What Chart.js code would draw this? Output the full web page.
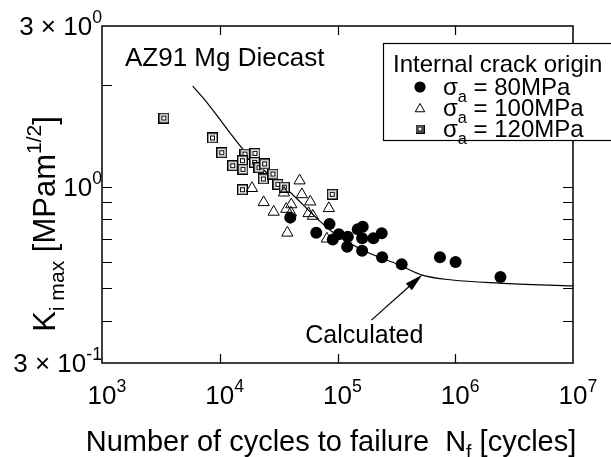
<!DOCTYPE html>
<html>
<head>
<meta charset="utf-8">
<script src="https://cdn.jsdelivr.net/npm/chart.js@4.4.0/dist/chart.umd.min.js"></script>
<style>
  html, body { margin: 0; padding: 0; background: #fff; }
  #wrap { width: 611px; height: 457px; }
</style>
</head>
<body>
<div id="wrap"><canvas id="chart" width="611" height="457"></canvas></div>
<script>
// values: N_f [cycles] and K_i max [MPa m^1/2]
const cyc80 = [39700, 66000, 85500, 91200, 102600, 122300, 120800, 148600, 163800, 161900, 161900, 201800, 237300, 239300, 350700, 741600, 1006000, 2420000];
const k80   = [0.81, 0.730, 0.776, 0.698, 0.723, 0.711, 0.664, 0.748, 0.761, 0.703, 0.646, 0.703, 0.728, 0.618, 0.589, 0.618, 0.598, 0.540];

const cyc100 = [18780, 47640, 49800, 23600, 40500, 58700, 28700, 36740, 40200, 56800, 61800, 84400, 37500, 81200, 35080];
const k100   = [0.990, 1.043, 0.949, 0.899, 0.886, 0.903, 0.842, 0.859, 0.838, 0.834, 0.819, 0.863, 0.730, 0.701, 0.960];

const cyc120 = [3352, 8670, 10400, 12890, 16380, 19910, 15570, 15750, 19800, 21530, 24060, 23460, 28300, 31200, 35340, 15570, 90200];
const k120   = [1.60, 1.396, 1.262, 1.155, 1.251, 1.257, 1.195, 1.127, 1.182, 1.139, 1.169, 1.055, 1.091, 1.017, 0.998, 0.980, 0.950];

// calculated curve
const calcN = [5900, 7460, 17950, 36980, 90800, 163000, 335000, 525000, 944000, 2360000, 10000000];
const calcK = [1.99, 1.81, 1.226, 0.985, 0.734, 0.649, 0.586, 0.547, 0.529, 0.518, 0.508];

// axis ticks and labels
const xLabelVals = [1e3, 1e4, 1e5, 1e6, 1e7];
const xLabelExp  = ['3', '4', '5', '6', '7'];
const xTickVals  = [1e4, 1e5, 1e6];
const yLabelVals = [3, 1, 0.3];
const yLabelBase = ['3 \u00d7 10', '10', '3 \u00d7 10'];
const yLabelExp  = ['0', '0', '-1'];
const yTickVals  = [2, 1, 0.9, 0.8, 0.7, 0.6, 0.5, 0.4];

const legendTitle = 'Internal crack origin';
const legendStress = ['80MPa', '100MPa', '120MPa'];

const FONT = '"Liberation Sans", Arial, Helvetica, sans-serif';

function zip(xs, ys) { return xs.map((x, i) => ({ x: x, y: ys[i] })); }

// square-in-square marker
function squareMarker(size) {
  const c = document.createElement('canvas');
  c.width = size; c.height = size;
  const g = c.getContext('2d');
  g.fillStyle = '#fff';
  g.fillRect(0, 0, size, size);
  g.strokeStyle = '#000';
  g.lineWidth = 1;
  g.strokeRect(0.5, 0.5, size - 1, size - 1);
  g.strokeStyle = '#8a8a8a';
  g.strokeRect(1.5, 1.5, size - 3, size - 3);
  g.strokeStyle = '#000';
  const m = Math.floor(size / 2) - 2;
  g.strokeRect(m + 0.5, m + 0.5, size - 2 * m - 1, size - 2 * m - 1);
  return c;
}
const sqBig = squareMarker(11);
const sqSmall = squareMarker(9);

// text with sub/superscripts, y is the baseline
function richText(ctx, parts, x, y, size, align) {
  const sz = p => p[1] === 'n' ? size : size * 0.68;
  let w = 0;
  parts.forEach(p => { ctx.font = sz(p) + 'px ' + FONT; w += ctx.measureText(p[0]).width; });
  let cx = align === 'center' ? x - w / 2 : align === 'right' ? x - w : x;
  ctx.textAlign = 'left';
  ctx.textBaseline = 'alphabetic';
  parts.forEach(p => {
    ctx.font = sz(p) + 'px ' + FONT;
    const dy = p[1] === 'sup' ? -size * 0.45 : p[1] === 'sub' ? size * 0.28 : 0;
    ctx.fillText(p[0], cx, y + dy);
    cx += ctx.measureText(p[0]).width;
  });
}

const decor = {
  id: 'decor',
  afterDraw(chart) {
    const ctx = chart.ctx;
    const xs = chart.scales.x, ys = chart.scales.y;
    const a = chart.chartArea;
    ctx.save();
    ctx.fillStyle = '#000';
    ctx.strokeStyle = '#000';

    // frame
    ctx.lineWidth = 1.5;
    ctx.strokeRect(a.left, a.top, a.right - a.left, a.bottom - a.top);

    // inward ticks
    ctx.lineWidth = 1.2;
    ctx.beginPath();
    xTickVals.forEach(v => {
      const px = Math.round(xs.getPixelForValue(v)) + 0.5;
      ctx.moveTo(px, a.bottom); ctx.lineTo(px, a.bottom - 9);
      ctx.moveTo(px, a.top); ctx.lineTo(px, a.top + 9);
    });
    yTickVals.forEach(v => {
      const py = Math.round(ys.getPixelForValue(v)) + 0.5;
      ctx.moveTo(a.left, py); ctx.lineTo(a.left + 10, py);
      ctx.moveTo(a.right, py); ctx.lineTo(a.right - 10, py);
    });
    ctx.stroke();

    // tick labels
    xLabelVals.forEach((v, i) => {
      const px = xs.getPixelForValue(v);
      ctx.font = '26px ' + FONT;
      const w10 = ctx.measureText('10').width;
      richText(ctx, [['10', 'n'], [xLabelExp[i], 'sup']], px - w10 / 2, 404, 26, 'left');
    });
    yLabelVals.forEach((v, i) => {
      const py = ys.getPixelForValue(v);
      richText(ctx, [[yLabelBase[i], 'n'], [yLabelExp[i], 'sup']], 102, py + 9, 26, 'right');
    });

    // axis titles
    richText(ctx, [['Number of cycles to failure  N', 'n'], ['f', 'sub'], [' [cycles]', 'n']], 331, 451, 29, 'center');
    ctx.save();
    ctx.translate(55, 224);
    ctx.rotate(-Math.PI / 2);
    richText(ctx, [['K', 'n'], ['i max', 'sub'], [' [MPam', 'n'], ['1/2', 'sup'], [']', 'n']], 0, 0, 31, 'center');
    ctx.restore();

    // annotations (placed in data coordinates)
    richText(ctx, [['AZ91 Mg Diecast', 'n']], xs.getPixelForValue(1567), ys.getPixelForValue(2.28), 26, 'left');
    richText(ctx, [['Calculated', 'n']], xs.getPixelForValue(169000), ys.getPixelForValue(0.344), 25, 'center');
    const tx = xs.getPixelForValue(525000), ty = ys.getPixelForValue(0.548);
    const fx = xs.getPixelForValue(194000), fy = ys.getPixelForValue(0.402);
    const ang = Math.atan2(ty - fy, tx - fx);
    ctx.lineWidth = 1.2;
    ctx.beginPath();
    ctx.moveTo(fx, fy);
    ctx.lineTo(tx - 12 * Math.cos(ang), ty - 12 * Math.sin(ang));
    ctx.stroke();
    ctx.beginPath();
    ctx.moveTo(tx, ty);
    ctx.lineTo(tx - 18 * Math.cos(ang) + 4.5 * Math.sin(ang), ty - 18 * Math.sin(ang) - 4.5 * Math.cos(ang));
    ctx.lineTo(tx - 18 * Math.cos(ang) - 4.5 * Math.sin(ang), ty - 18 * Math.sin(ang) + 4.5 * Math.cos(ang));
    ctx.closePath();
    ctx.fill();

    // legend box
    ctx.fillStyle = '#fff';
    ctx.fillRect(383, 43, 240, 97);
    ctx.lineWidth = 1.2;
    ctx.strokeRect(383.5, 43.5, 240, 97);
    ctx.fillStyle = '#000';
    richText(ctx, [[legendTitle, 'n']], 393, 72, 24, 'left');
    const rows = [87, 108, 129];
    Chart.helpers.drawPoint(ctx, { pointStyle: 'circle', radius: 5, rotation: 0, borderWidth: 1 }, 420, rows[0]);
    ctx.fill();
    ctx.strokeStyle = '#000';
    ctx.lineWidth = 1;
    ctx.fillStyle = 'rgba(0,0,0,0)';
    Chart.helpers.drawPoint(ctx, { pointStyle: 'triangle', radius: 5.5, rotation: 0, borderWidth: 1 }, 420, rows[1] + 1);
    Chart.helpers.drawPoint(ctx, { pointStyle: sqSmall, radius: 4.5, rotation: 0, borderWidth: 0 }, 420, rows[2]);
    ctx.fillStyle = '#000';
    rows.forEach((r, i) => {
      richText(ctx, [['\u03c3', 'n'], ['a', 'sub'], [' = ' + legendStress[i], 'n']], 443, r + 8, 24, 'left');
    });
    ctx.restore();
  }
};

new Chart(document.getElementById('chart'), {
  type: 'scatter',
  data: {
    datasets: [
      {
        label: '80MPa', data: zip(cyc80, k80),
        pointStyle: 'circle', pointRadius: 6, pointBackgroundColor: '#000', pointBorderColor: '#000',
        pointBorderWidth: 0, order: 1
      },
      {
        label: '100MPa', data: zip(cyc100, k100),
        pointStyle: 'triangle', pointRadius: 6.5, pointBackgroundColor: 'rgba(0,0,0,0)', pointBorderColor: '#000',
        pointBorderWidth: 1, order: 2
      },
      {
        label: '120MPa', data: zip(cyc120, k120),
        pointStyle: sqBig, pointRadius: 5.5, order: 3
      },
      {
        type: 'line', label: 'Calculated', data: zip(calcN, calcK),
        borderColor: '#000', borderWidth: 1.2, pointRadius: 0, fill: false,
        cubicInterpolationMode: 'monotone', order: 4
      }
    ]
  },
  options: {
    responsive: false,
    devicePixelRatio: 1,
    animation: false,
    layout: { padding: { left: 102, top: 26, right: 38, bottom: 94 } },
    plugins: { legend: { display: false }, tooltip: { enabled: false } },
    scales: {
      x: { type: 'logarithmic', min: 1e3, max: 1e7, display: false },
      y: { type: 'logarithmic', min: 0.3, max: 3, display: false }
    }
  },
  plugins: [decor]
});
</script>
</body>
</html>
